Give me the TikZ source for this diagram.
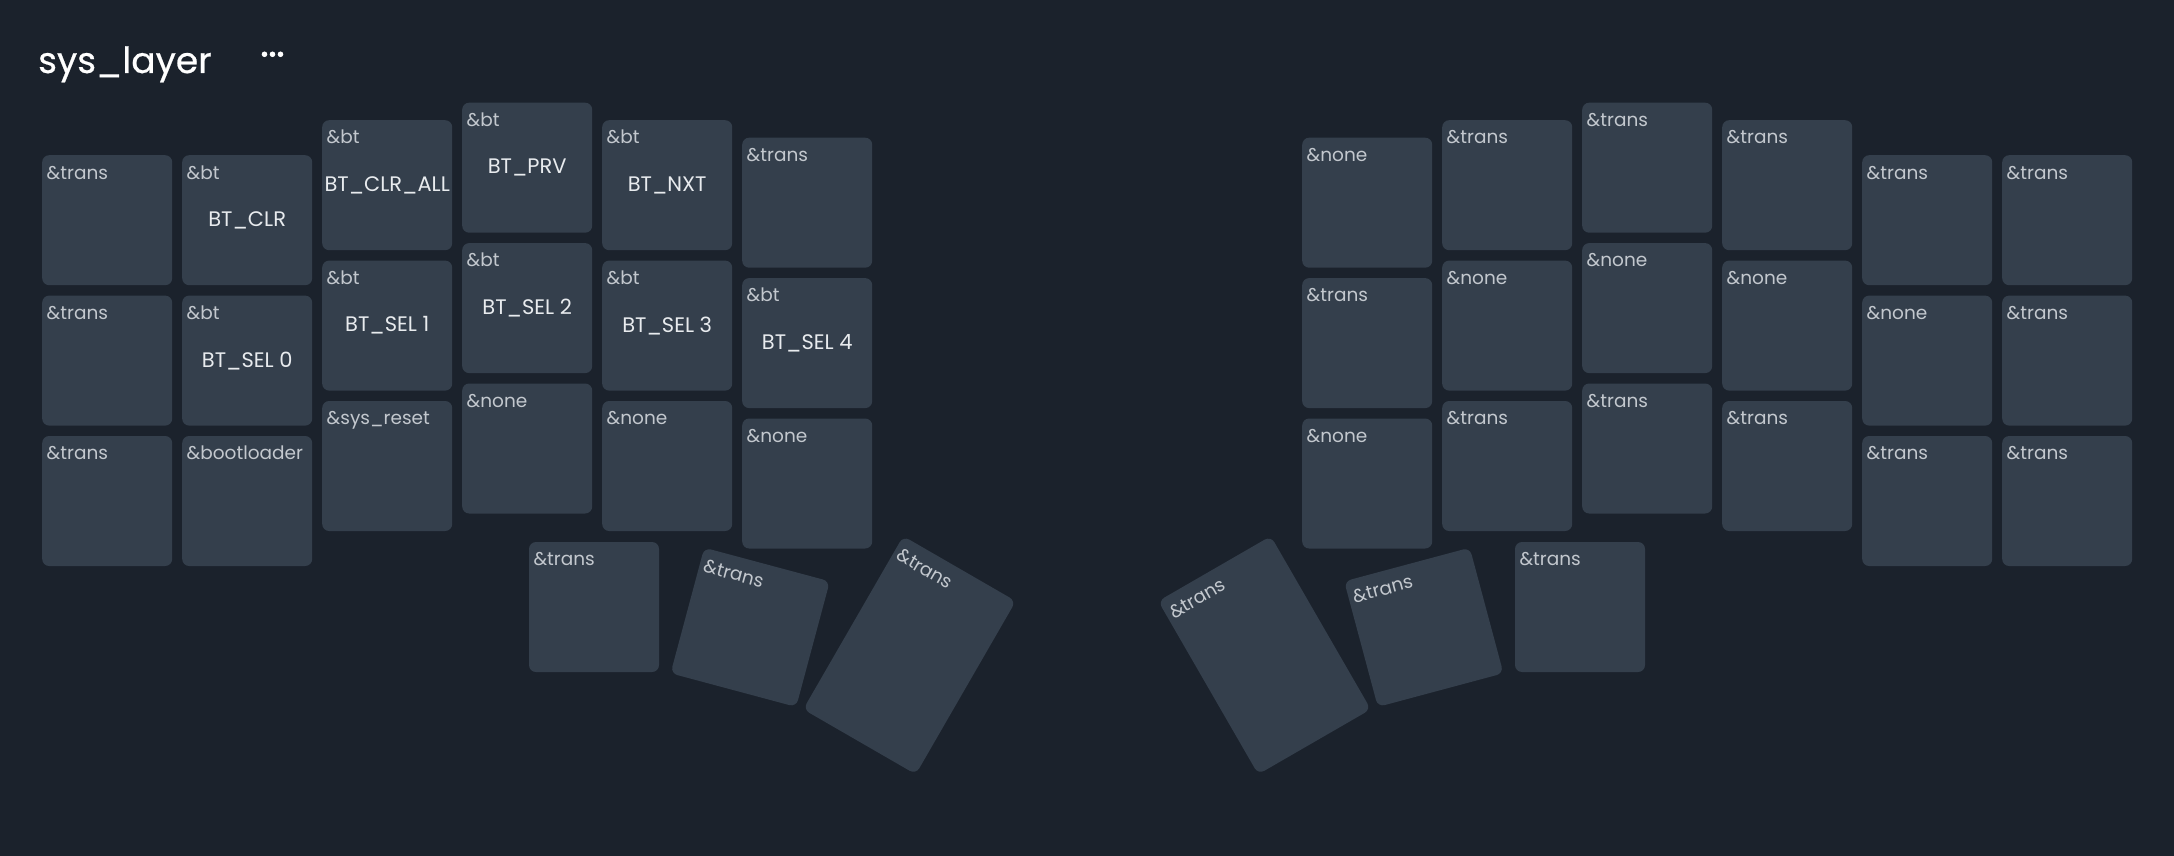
\documentclass[tikz,border=0pt]{standalone}
\usepackage{fontspec}
\setmainfont{Poppins}
\usetikzlibrary{positioning}
\definecolor{board}{HTML}{1B222C}
\definecolor{capfill}{HTML}{343F4C}
\definecolor{legendtext}{HTML}{C3C8CE}
\definecolor{taptext}{HTML}{E8EBEE}
\tikzset{
    %Define style for key caps
    keycap/.style={
           rectangle,
           rounded corners=7pt,
           fill=capfill,
           minimum width=130pt,
           minimum height=130pt,
           inner sep=0pt,
           text=taptext,
           font=\fontsize{21}{24}\selectfont,
           text centered,
           },
    tallkey/.style={
           keycap,
           minimum height=200pt,
           },
    % Define style for the binding in the corner
    legendtxt/.style={
           anchor=base west,
           inner sep=0pt,
           xshift=4.5pt,
           yshift=-24pt,
           text=legendtext,
           font=\fontsize{18.5}{22}\selectfont,
           },
    bind/.style={label={[legendtxt]north west:#1}},
    layertitle/.style={
           anchor=base west,
           inner sep=0pt,
           text=white,
           font=\fontsize{36}{40}\selectfont\addfontfeature{FakeBold=0.6},
           }
}

\begin{document}
\begin{tikzpicture}[x=1pt,y=-1pt,node distance=10pt]
\fill[board] (0,0) rectangle (2174,856);
\useasboundingbox (0,0) rectangle (2174,856);
\node[layertitle](title) at (38,73){sys\_layer};
\fill[white] (264.5,54.3) circle (2.8) (272.5,54.3) circle (2.8) (280.5,54.3) circle (2.8);
% left hand
\node[keycap, anchor=north west, bind=\&trans](l00) at (42,155){};
\node[keycap, below=of l00, bind=\&trans](l10){};
\node[keycap, below=of l10, bind=\&trans](l20){};
\node[keycap, anchor=north west, bind=\&bt](l01) at (182,155){BT\_CLR};
\node[keycap, below=of l01, bind=\&bt](l11){BT\_SEL 0};
\node[keycap, below=of l11, bind=\&bootloader](l21){};
\node[keycap, anchor=north west, bind=\&bt](l02) at (322,120){BT\_CLR\_ALL};
\node[keycap, below=of l02, bind=\&bt](l12){BT\_SEL 1};
\node[keycap, below=of l12, bind=\&sys\_reset](l22){};
\node[keycap, anchor=north west, bind=\&bt](l03) at (462,102.5){BT\_PRV};
\node[keycap, below=of l03, bind=\&bt](l13){BT\_SEL 2};
\node[keycap, below=of l13, bind=\&none](l23){};
\node[keycap, anchor=north west, bind=\&bt](l04) at (602,120){BT\_NXT};
\node[keycap, below=of l04, bind=\&bt](l14){BT\_SEL 3};
\node[keycap, below=of l14, bind=\&none](l24){};
\node[keycap, anchor=north west, bind=\&trans](l05) at (742,137.5){};
\node[keycap, below=of l05, bind=\&bt](l15){BT\_SEL 4};
\node[keycap, below=of l15, bind=\&none](l25){};
% left thumbs
\node[keycap, bind=\&trans](lt1) at (594,607){};
\begin{scope}[shift={(750.2,627.3)}, rotate=-15, transform shape]
\node[keycap, bind=\&trans](lt2) at (0,0){};
\end{scope}
\begin{scope}[shift={(909.5,655.2)}, rotate=-30, transform shape]
\node[tallkey, bind=\&trans](lt3) at (0,0){};
\end{scope}
% right hand
\node[keycap, anchor=north west, bind=\&none](r00) at (1302,137.5){};
\node[keycap, below=of r00, bind=\&trans](r10){};
\node[keycap, below=of r10, bind=\&none](r20){};
\node[keycap, anchor=north west, bind=\&trans](r01) at (1442,120){};
\node[keycap, below=of r01, bind=\&none](r11){};
\node[keycap, below=of r11, bind=\&trans](r21){};
\node[keycap, anchor=north west, bind=\&trans](r02) at (1582,102.5){};
\node[keycap, below=of r02, bind=\&none](r12){};
\node[keycap, below=of r12, bind=\&trans](r22){};
\node[keycap, anchor=north west, bind=\&trans](r03) at (1722,120){};
\node[keycap, below=of r03, bind=\&none](r13){};
\node[keycap, below=of r13, bind=\&trans](r23){};
\node[keycap, anchor=north west, bind=\&trans](r04) at (1862,155){};
\node[keycap, below=of r04, bind=\&none](r14){};
\node[keycap, below=of r14, bind=\&trans](r24){};
\node[keycap, anchor=north west, bind=\&trans](r05) at (2002,155){};
\node[keycap, below=of r05, bind=\&trans](r15){};
\node[keycap, below=of r15, bind=\&trans](r25){};
% right thumbs
\begin{scope}[shift={(1264.5,655.2)}, rotate=30, transform shape]
\node[tallkey, bind=\&trans](rt3) at (0,0){};
\end{scope}
\begin{scope}[shift={(1423.8,627.3)}, rotate=15, transform shape]
\node[keycap, bind=\&trans](rt2) at (0,0){};
\end{scope}
\node[keycap, bind=\&trans](rt1) at (1580,607){};
\end{tikzpicture}
\end{document}
